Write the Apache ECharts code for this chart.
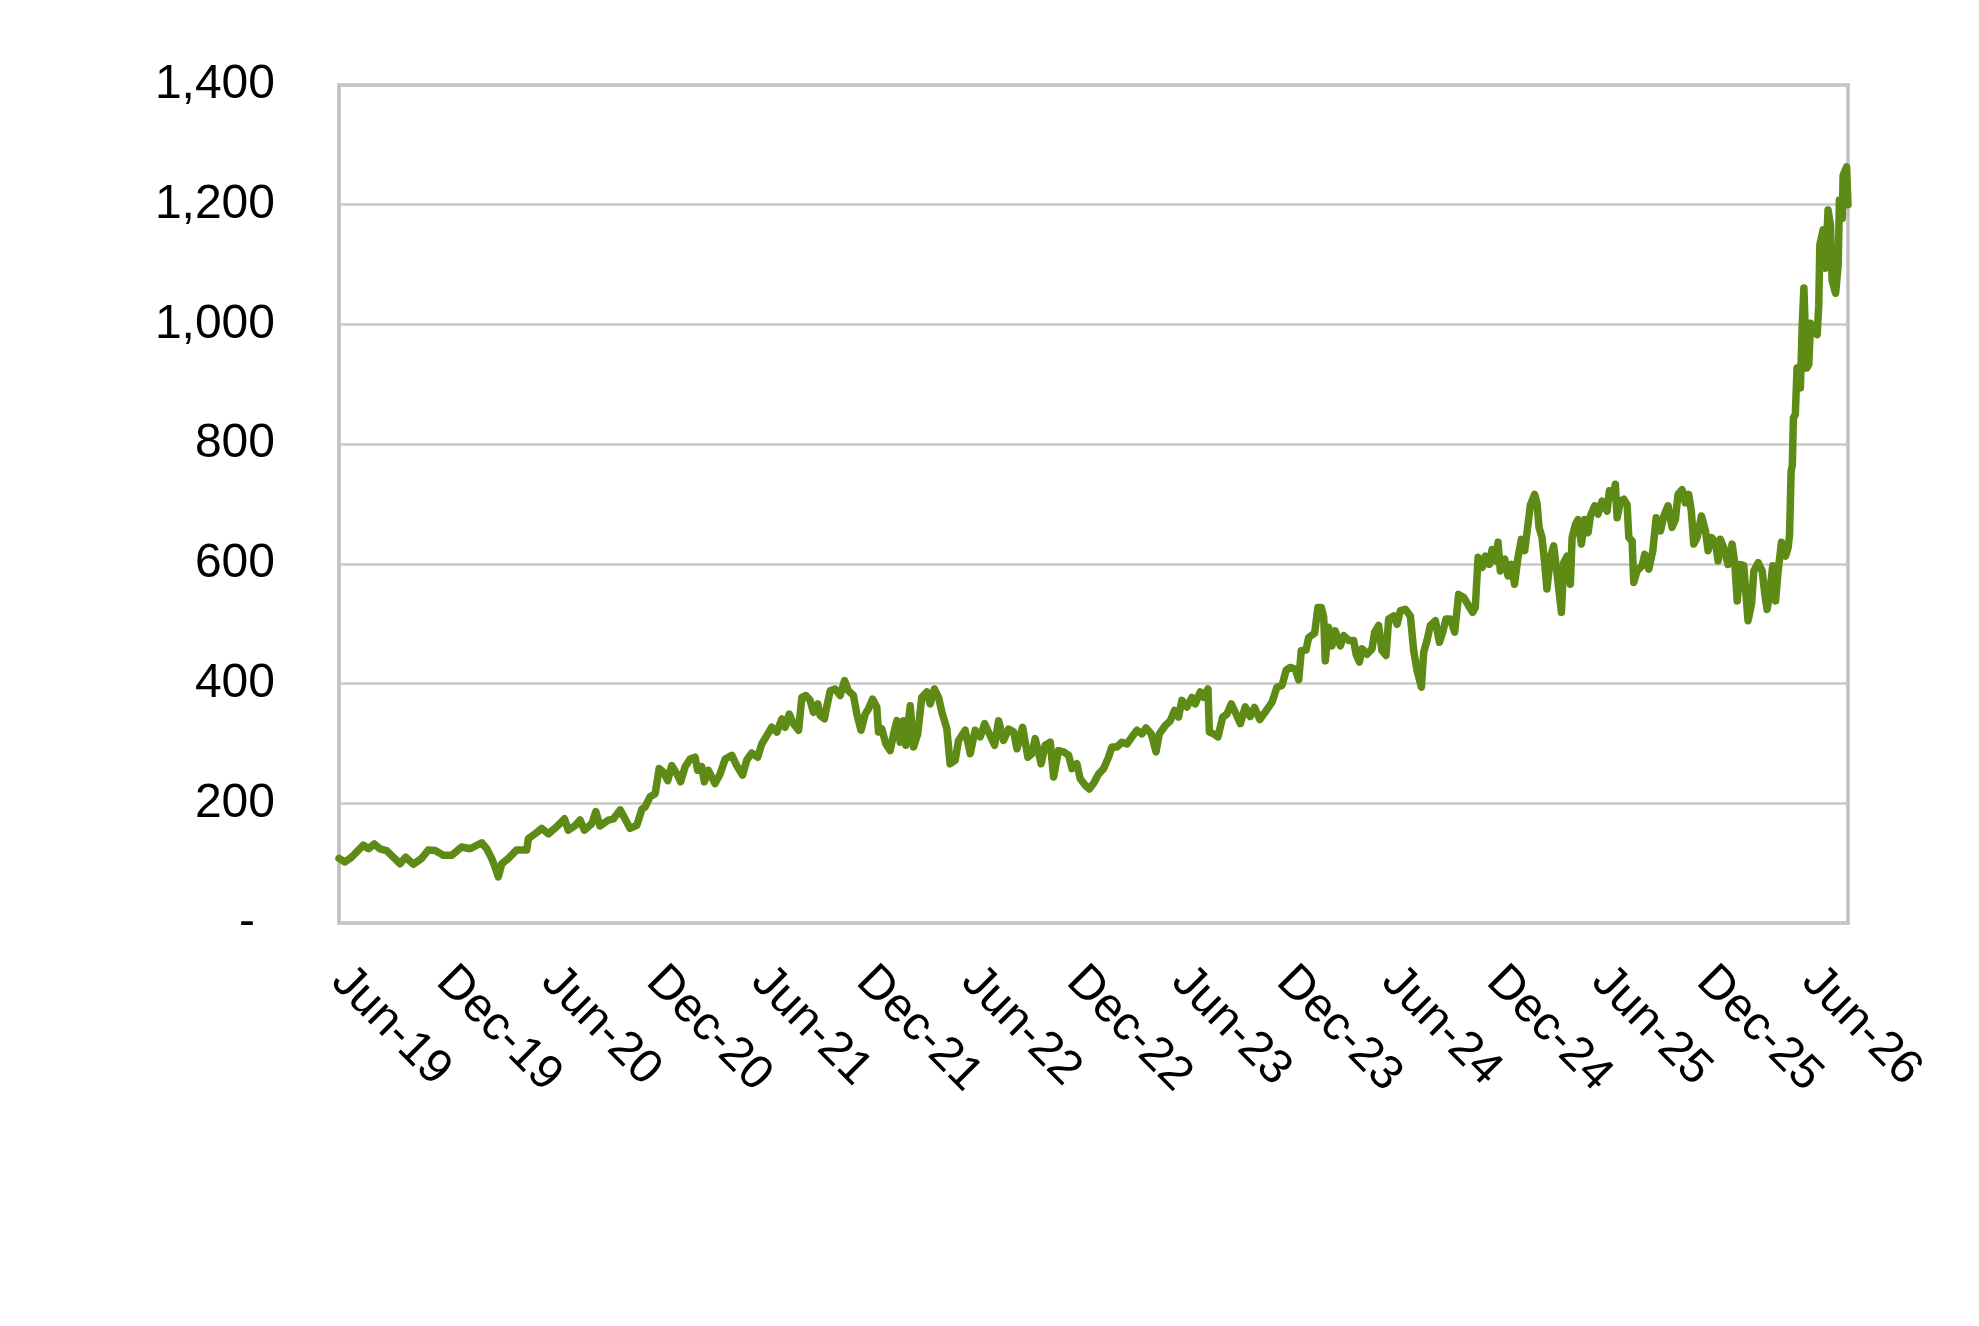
<!DOCTYPE html>
<html>
<head>
<meta charset="utf-8">
<script src="https://cdn.jsdelivr.net/npm/echarts@6/dist/echarts.min.js"></script>
<style>
html,body{margin:0;padding:0;background:#fff;}
#chart{width:1979px;height:1326px;}
</style>
</head>
<body>
<div id="chart"></div>
<script>
// x = months since Jun-2019, y = price
const tickLabels = ['Jun-19','Dec-19','Jun-20','Dec-20','Jun-21','Dec-21','Jun-22','Dec-22','Jun-23','Dec-23','Jun-24','Dec-24','Jun-25','Dec-25','Jun-26'];
const yTicks = [0,200,400,600,800,1000,1200,1400];
const months = [0,0.34,0.72,1.39,1.68,2.02,2.34,2.72,3.1,3.49,3.81,4.25,4.72,5.1,5.49,5.96,6.44,7.01,7.49,8.15,8.44,8.72,8.91,9.1,9.3,9.68,10.15,10.72,10.82,11.2,11.58,11.96,12.44,12.88,13.1,13.5,13.77,14.02,14.44,14.67,14.91,15.39,15.68,16.06,16.34,16.63,17.01,17.3,17.49,17.77,18.06,18.29,18.54,18.78,19.01,19.3,19.52,19.77,20.06,20.34,20.49,20.72,20.87,21.1,21.48,21.77,22.06,22.44,22.72,23.05,23.29,23.58,23.92,24.15,24.44,24.72,25.01,25.3,25.49,25.72,25.96,26.25,26.44,26.67,26.91,27.1,27.35,27.48,27.73,27.86,28.06,28.34,28.63,28.88,29.1,29.39,29.58,29.82,30.06,30.25,30.48,30.72,30.82,31.01,31.24,31.49,31.68,31.87,32.06,32.25,32.38,32.63,32.82,33.06,33.29,33.58,33.77,34.01,34.25,34.44,34.72,34.91,35.2,35.39,35.77,36.06,36.34,36.63,36.88,37.15,37.45,37.68,37.96,38.25,38.54,38.73,39.05,39.35,39.58,39.77,40.11,40.34,40.63,40.82,41.1,41.39,41.68,41.87,42.15,42.34,42.63,42.86,43.1,43.39,43.68,43.96,44.15,44.44,44.72,45.01,45.3,45.58,45.87,46.1,46.4,46.67,46.86,47.2,47.49,47.73,47.96,48.15,48.44,48.72,48.91,49.2,49.39,49.64,49.72,49.96,50.21,50.48,50.72,50.97,51.2,51.49,51.77,52.05,52.3,52.6,52.9,53.3,53.58,53.87,54.1,54.34,54.63,54.82,54.97,55.24,55.39,55.73,55.92,56.11,56.25,56.34,56.53,56.72,56.91,57.2,57.39,57.68,57.96,58.1,58.29,58.44,58.72,59.01,59.16,59.39,59.58,59.81,59.96,60.25,60.44,60.63,60.91,61.2,61.39,61.58,61.83,61.96,62.15,62.34,62.63,62.86,63.05,63.24,63.49,63.73,63.96,64.25,64.53,64.76,64.91,65.07,65.3,65.49,65.71,65.87,66.05,66.21,66.34,66.59,66.78,66.97,67.15,67.35,67.54,67.73,67.92,68.06,68.3,68.44,68.55,68.72,68.88,69.0,69.2,69.39,69.58,69.83,69.96,70.15,70.34,70.44,70.63,70.78,70.97,71.16,71.35,71.49,71.73,71.92,72.15,72.44,72.57,72.76,72.91,73.01,73.2,73.39,73.58,73.68,73.87,73.96,74.15,74.44,74.59,74.82,75.05,75.24,75.49,75.68,75.92,76.15,76.34,76.49,76.72,76.91,77.1,77.25,77.39,77.58,77.83,78.06,78.21,78.4,78.63,78.78,78.91,79.1,79.35,79.58,79.73,79.87,80.06,80.25,80.34,80.49,80.69,80.82,81.07,81.3,81.45,81.58,81.77,81.9,82.06,82.21,82.4,82.63,82.78,82.86,82.95,83.02,83.08,83.19,83.29,83.48,83.58,83.68,83.83,83.96,84.06,84.29,84.44,84.53,84.59,84.78,84.91,85.06,85.2,85.29,85.49,85.64,85.71,85.87,85.92,86.12,86.2];
const prices = [108,102,110,130,124,132,124,121,110,99,110,98,108,122,121,113,113,127,124,134,124,108,94,77,99,108,122,122,141,149,158,149,161,174,155,163,172,155,166,186,162,172,174,189,174,158,163,190,194,211,216,258,252,238,263,249,236,261,274,277,255,261,236,255,233,249,274,280,263,247,272,284,277,299,313,327,319,341,327,349,333,322,377,380,372,352,366,347,341,361,388,391,380,405,388,380,349,322,349,358,374,361,319,324,299,288,316,338,302,338,297,363,294,316,377,386,366,391,377,352,325,266,272,305,322,283,322,311,333,316,297,338,305,324,319,291,327,277,283,308,266,297,302,244,288,286,280,258,266,241,230,224,233,249,258,277,294,294,302,299,311,322,316,326,316,286,316,330,338,355,344,372,361,377,366,386,377,391,319,316,311,344,349,366,352,333,361,345,360,340,352,369,394,397,422,427,424,406,455,456,477,484,527,527,511,438,494,463,488,463,480,472,472,449,436,458,449,458,486,497,455,447,508,513,499,522,524,513,455,422,394,452,472,497,505,469,486,508,508,486,549,544,530,519,527,611,594,613,599,624,605,636,588,608,580,599,566,611,641,622,666,699,716,700,661,644,599,558,611,630,583,519,602,613,566,644,666,674,633,674,652,680,697,683,705,688,722,711,733,677,705,708,699,644,638,569,588,597,616,591,622,677,655,680,697,661,674,716,724,702,716,688,633,644,680,655,622,644,636,605,641,627,599,633,602,538,599,597,561,505,533,588,602,588,549,524,561,597,538,588,636,613,627,648,755,765,844,849,927,894,994,1061,927,933,1002,986,983,1033,1133,1158,1094,1191,1166,1074,1052,1099,1208,1177,1249,1263,1200];

const seriesData = months.map((m, i) => [m, prices[i]]);
const FONT = 'Liberation Sans';

const chart = echarts.init(document.getElementById('chart'), null, {renderer: 'canvas'});
chart.setOption({
  animation: false,
  backgroundColor: '#ffffff',
  grid: {
    left: 339, right: 131, top: 85, bottom: 403,
    show: true, borderColor: '#bfbfbf', borderWidth: 3.5, backgroundColor: 'transparent'
  },
  xAxis: {
    type: 'value',
    min: 0, max: 86.2, interval: 6,
    axisLine: {show: false},
    axisTick: {show: false},
    splitLine: {show: false},
    axisLabel: {
      rotate: -45,
      margin: 51,
      fontFamily: FONT, fontSize: 48, color: '#000',
      formatter: function (v) {
        if (Math.abs(v % 6) > 1e-6) return '';
        const idx = Math.round(v / 6);
        return tickLabels[idx] || '';
      }
    }
  },
  yAxis: {
    type: 'value',
    min: yTicks[0], max: yTicks[yTicks.length - 1], interval: 200,
    axisLine: {show: false},
    axisTick: {show: false},
    splitLine: {show: true, lineStyle: {color: '#c8c8c8', width: 2.5}},
    axisLabel: {
      margin: 64,
      fontFamily: FONT, fontSize: 48, color: '#000',
      formatter: function (v) {
        if (v === 0) return '{d|-}';
        return v.toLocaleString('en-US');
      },
      rich: {
        d: {fontFamily: FONT, fontSize: 48, color: '#000', padding: [0, 20, 0, 0]}
      }
    }
  },
  series: [{
    type: 'line',
    data: seriesData,
    showSymbol: false,
    symbol: 'none',
    clip: false,
    lineStyle: {color: '#5e8b16', width: 7.5, join: 'round', cap: 'round'}
  }]
});
</script>
</body>
</html>
